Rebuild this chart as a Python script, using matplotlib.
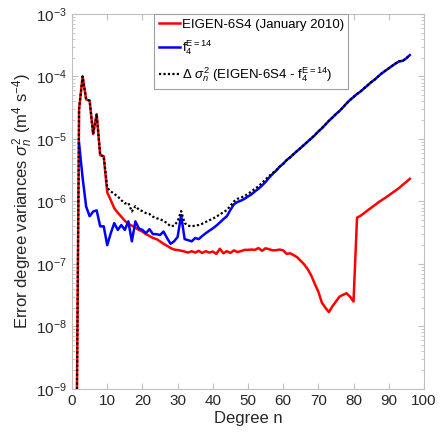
import numpy as np
import matplotlib.pyplot as plt

plt.rcParams['font.family'] = 'Liberation Sans'
plt.rcParams['mathtext.fontset'] = 'custom'
plt.rcParams['mathtext.rm'] = 'Liberation Sans'
plt.rcParams['mathtext.it'] = 'Liberation Sans:italic'
plt.rcParams['mathtext.bf'] = 'Liberation Sans:bold'

degree = np.arange(1, 97)

# EIGEN-6S4 error degree variances, n = 1..96
eigen = [1e-12, 3.0e-5, 1.0e-4, 4.3e-5, 4.1e-5, 1.2e-5, 2.5e-5, 5.5e-6, 5.3e-6, 1.4e-6,
         1.05e-6, 7.8e-7, 6.6e-7, 5.7e-7, 4.9e-7, 4.4e-7, 4.1e-7, 3.8e-7, 3.5e-7, 3.3e-7,
         3.0e-7, 2.8e-7, 2.6e-7, 2.5e-7, 2.3e-7, 2.1e-7, 1.95e-7, 1.8e-7, 1.7e-7, 1.67e-7,
         1.63e-7, 1.58e-7, 1.52e-7, 1.6e-7, 1.52e-7, 1.62e-7, 1.5e-7, 1.6e-7, 1.52e-7, 1.58e-7,
         1.45e-7, 1.75e-7, 1.48e-7, 1.6e-7, 1.5e-7, 1.65e-7, 1.55e-7, 1.6e-7, 1.68e-7, 1.68e-7,
         1.7e-7, 1.68e-7, 1.8e-7, 1.62e-7, 1.78e-7, 1.72e-7, 1.65e-7, 1.66e-7, 1.7e-7, 1.65e-7,
         1.45e-7, 1.48e-7, 1.38e-7, 1.28e-7, 1.12e-7, 9.8e-8, 8.2e-8, 6.5e-8, 4.8e-8, 3.6e-8,
         2.4e-8, 2.0e-8, 1.7e-8, 2.1e-8, 2.5e-8, 3.0e-8, 3.2e-8, 3.4e-8, 3.0e-8, 2.5e-8,
         5.5e-7, 5.9e-7, 6.5e-7, 7.2e-7, 7.9e-7, 8.7e-7, 9.6e-7, 1.05e-6, 1.14e-6, 1.25e-6,
         1.37e-6, 1.5e-6, 1.65e-6, 1.85e-6, 2.05e-6, 2.3e-6]

# f4 (E=14) error degree variances, n = 2..96
f4_degree = np.arange(2, 97)
f4 = [8.5e-6, 2.4e-6, 8.3e-7, 5.8e-7, 6.9e-7, 7.2e-7, 4.0e-7, 4.0e-7, 2.0e-7,
      3.1e-7, 4.5e-7, 3.5e-7, 4.2e-7, 3.5e-7, 4.8e-7, 2.3e-7, 4.8e-7, 3.7e-7, 3.5e-7,
      3.1e-7, 3.6e-7, 3.0e-7, 3.0e-7, 2.9e-7, 3.3e-7, 2.6e-7, 2.1e-7, 2.3e-7, 2.7e-7,
      6.0e-7, 2.5e-7, 2.4e-7, 2.3e-7, 2.6e-7, 2.5e-7, 2.8e-7, 3.1e-7, 3.4e-7, 3.7e-7,
      4.1e-7, 4.6e-7, 5.2e-7, 5.8e-7, 7.3e-7, 9.0e-7, 9.8e-7, 1.03e-6, 1.1e-6, 1.2e-6,
      1.3e-6, 1.45e-6, 1.6e-6, 1.8e-6, 2.05e-6, 2.4e-6, 2.75e-6, 3.1e-6, 3.6e-6, 4.0e-6,
      4.6e-6, 5.1e-6, 5.75e-6, 6.45e-6, 7.2e-6, 8.1e-6, 9.1e-6, 1.02e-5, 1.15e-5, 1.32e-5,
      1.48e-5, 1.7e-5, 1.95e-5, 2.2e-5, 2.5e-5, 2.8e-5, 3.2e-5, 3.7e-5, 4.2e-5, 4.7e-5,
      5.25e-5, 5.75e-5, 6.45e-5, 7.2e-5, 8.1e-5, 8.9e-5, 1.0e-4, 1.12e-4, 1.23e-4, 1.35e-4,
      1.48e-4, 1.62e-4, 1.75e-4, 1.78e-4, 1.95e-4, 2.2e-4]

# difference EIGEN-6S4 - f4, n = 1..96
delta = [1e-12, 3.0e-5, 1.0e-4, 4.3e-5, 4.1e-5, 1.2e-5, 2.5e-5, 5.5e-6, 5.3e-6, 1.65e-6,
         1.45e-6, 1.32e-6, 1.2e-6, 1.05e-6, 9.3e-7, 9.5e-7, 6.9e-7, 8.4e-7, 7.4e-7, 7.0e-7,
         6.5e-7, 6.3e-7, 5.7e-7, 5.4e-7, 5.2e-7, 4.9e-7, 4.5e-7, 4.0e-7, 4.1e-7, 4.8e-7,
         7.0e-7, 4.5e-7, 4.1e-7, 4.0e-7, 4.1e-7, 4.2e-7, 4.4e-7, 4.7e-7, 5.0e-7, 5.3e-7,
         5.7e-7, 6.2e-7, 6.7e-7, 7.3e-7, 8.5e-7, 1.0e-6, 1.1e-6, 1.15e-6, 1.22e-6, 1.32e-6,
         1.45e-6, 1.6e-6, 1.75e-6, 1.98e-6, 2.25e-6, 2.55e-6, 2.85e-6, 3.15e-6, 3.6e-6, 4.0e-6,
         4.6e-6, 5.1e-6, 5.75e-6, 6.45e-6, 7.2e-6, 8.1e-6, 9.1e-6, 1.02e-5, 1.15e-5, 1.32e-5,
         1.48e-5, 1.7e-5, 1.95e-5, 2.2e-5, 2.5e-5, 2.8e-5, 3.2e-5, 3.7e-5, 4.2e-5, 4.7e-5,
         5.25e-5, 5.75e-5, 6.45e-5, 7.2e-5, 8.1e-5, 8.9e-5, 1.0e-4, 1.12e-4, 1.23e-4, 1.35e-4,
         1.48e-4, 1.62e-4, 1.75e-4, 1.78e-4, 1.95e-4, 2.2e-4]

fig = plt.figure(figsize=(4.42, 4.37), dpi=100)
ax = fig.add_axes([0.163, 0.110, 0.796, 0.858])

ax.semilogy(degree, eigen, color='#ff0000', lw=1.8, label='EIGEN-6S4 (January 2010)')
ax.semilogy(f4_degree, f4, color='#0000ff', lw=1.8, label=r'$\mathrm{f}_4^{\mathrm{E=14}}$')
ax.semilogy(degree, delta, color='black', lw=1.6, ls=(0, (1, 1)),
            label=r'$\Delta\ \sigma_n^2$ (EIGEN-6S4 - $\mathrm{f}_4^{\mathrm{E=14}}$)')

ax.set_xlim(0, 100)
ax.set_ylim(1e-9, 1e-3)
ax.set_xticks(np.arange(0, 101, 10))
ax.set_yticks([1e-9, 1e-8, 1e-7, 1e-6, 1e-5, 1e-4, 1e-3])

for s in ax.spines.values():
    s.set_color('#c0c0c0')
    s.set_linewidth(0.8)
ax.tick_params(which='both', direction='in', top=True, right=True,
               colors='#c0c0c0', labelcolor='#262626', labelsize=11)
ax.tick_params(which='major', length=4)
ax.tick_params(which='minor', length=2)

ax.set_xlabel('Degree n', fontsize=12, color='#262626', labelpad=2)
ax.set_ylabel(r'Error degree variances $\sigma_n^2$ (m$^4$ s$^{-4}$)', fontsize=12,
              color='#262626', labelpad=1)

leg = ax.legend(loc='upper left', bbox_to_anchor=(0.233, 1.0), borderaxespad=0,
                fontsize=9.5, handlelength=1.6, handletextpad=0.15, labelspacing=0.6,
                fancybox=False, framealpha=1, borderpad=0.35)
leg.get_frame().set_edgecolor('#a0a0a0')
leg.get_frame().set_linewidth(0.8)

fig.savefig('out.png', dpi=100)
